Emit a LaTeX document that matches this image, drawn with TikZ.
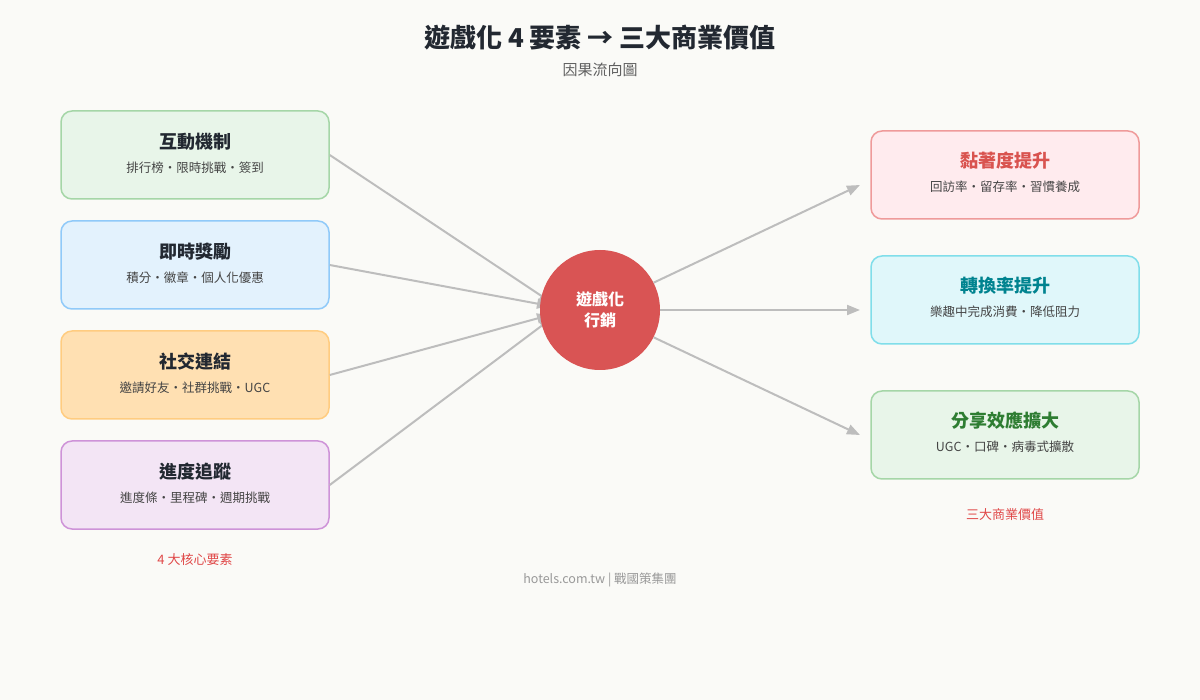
\documentclass[tikz,border=0pt]{standalone}
\usepackage{fontspec}
\setmainfont{Noto Sans CJK TC}
\usetikzlibrary{arrows.meta,positioning,calc}
\definecolor{paper}{HTML}{FAFAF7}
\definecolor{ink}{HTML}{222831}
\definecolor{subink}{HTML}{444444}
\definecolor{wire}{HTML}{BDBDBD}
\definecolor{hubred}{HTML}{D95454}
\definecolor{notered}{HTML}{E04848}
\definecolor{footgray}{HTML}{999999}
\definecolor{greenfill}{HTML}{E8F5E9}  \definecolor{greenline}{HTML}{A5D6A7}
\definecolor{bluefill}{HTML}{E3F2FD}   \definecolor{blueline}{HTML}{90CAF9}
\definecolor{orangefill}{HTML}{FFE0B2} \definecolor{orangeline}{HTML}{FFCC80}
\definecolor{purplefill}{HTML}{F3E5F5} \definecolor{purpleline}{HTML}{CE93D8}
\definecolor{pinkfill}{HTML}{FFEBEE}   \definecolor{pinkline}{HTML}{EF9A9A}
\definecolor{cyanfill}{HTML}{E0F7FA}   \definecolor{cyanline}{HTML}{80DEEA}
\definecolor{pinktext}{HTML}{D9534F}
\definecolor{cyantext}{HTML}{00838F}
\definecolor{greentext}{HTML}{2E7D32}

\begin{document}
\begin{tikzpicture}[x=1pt,y=-1pt,
  box/.style={draw=#1line, fill=#1fill, line width=1.5pt, rounded corners=11pt,
    minimum width=268pt, minimum height=88pt, align=center, inner sep=0pt},
  head/.style={font=\bfseries\fontsize{18}{21}\selectfont},
  sub/.style={font=\fontsize{12.5}{15}\selectfont, text=subink},
  link/.style={draw=wire, line width=2pt, -{Triangle[length=13pt,width=10pt]}}]
  \useasboundingbox[fill=paper] (0,0) rectangle (1200,700);
  % title
  \node[font=\bfseries\fontsize{26}{31}\selectfont, text=ink] (title) at (600,38) {遊戲化 4 要素 → 三大商業價值};
  \node[font=\fontsize{15}{18}\selectfont, text=subink!85] (subtitle) at (600,70) {因果流向圖};
  % four elements
  \foreach \n/\y/\c/\t/\s in {e1/155/green/互動機制/排行榜・限時挑戰・簽到,
      e2/265/blue/即時獎勵/積分・徽章・個人化優惠,
      e3/375/orange/社交連結/邀請好友・社群挑戰・UGC,
      e4/485/purple/進度追蹤/進度條・里程碑・週期挑戰}{
    \node[box=\c] (\n) at (195,\y) {};
    \node[head, text=ink] at (195,\y-13) {\t};
    \node[sub] at (195,\y+13) {\s};}
  \coordinate (in1) at (552,303);
  \coordinate (in2) at (550,306);
  \coordinate (in3) at (550,315);
  \coordinate (in4) at (552,318);
  \foreach \i in {1,...,4}{\draw[link] (e\i.east) -- (in\i);}
  % hub
  \node[circle, fill=hubred, minimum size=120pt, text=white, align=center,
    font=\bfseries\fontsize{16}{21}\selectfont] (hub) at (600,310) {遊戲化\\行銷};
  % three values
  \node[box=pink] (v1) at (1005,175) {};
  \node[head, text=pinktext] at (1005,161) {黏著度提升};
  \node[sub] at (1005,187) {回訪率・留存率・習慣養成};
  \node[box=cyan] (v2) at (1005,300) {};
  \node[head, text=cyantext] at (1005,286) {轉換率提升};
  \node[sub] at (1005,312) {樂趣中完成消費・降低阻力};
  \node[box=green] (v3) at (1005,435) {};
  \node[head, text=greentext] at (1005,421) {分享效應擴大};
  \node[sub] at (1005,447) {UGC・口碑・病毒式擴散};
  \coordinate (out1) at (860,185);
  \coordinate (out2) at (860,310);
  \coordinate (out3) at (860,435);
  \draw[link] (hub.27) -- (out1);
  \draw[link] (hub.0) -- (out2);
  \draw[link] (hub.-27) -- (out3);
  % notes
  \node[font=\fontsize{13}{15}\selectfont, text=notered] (leftnote) at (195,560) {4 大核心要素};
  \node[font=\fontsize{13}{15}\selectfont, text=notered] (rightnote) at (1005,515) {三大商業價值};
  \node[font=\fontsize{12.5}{15}\selectfont, text=footgray] (footer) at (600,580) {hotels.com.tw | 戰國策集團};
\end{tikzpicture}
\end{document}
